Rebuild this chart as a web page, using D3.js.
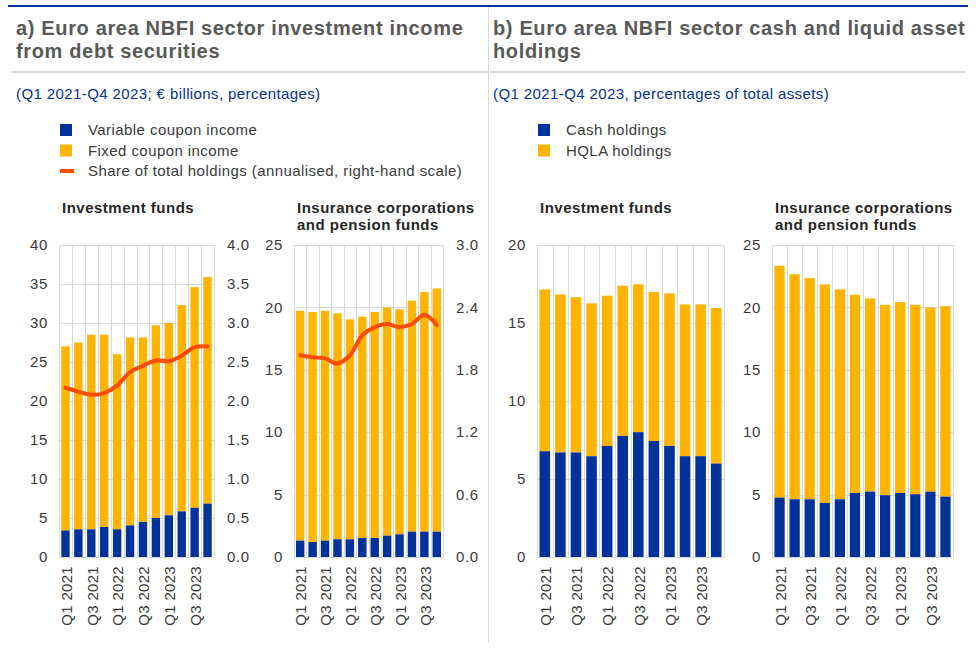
<!DOCTYPE html>
<html>
<head>
<meta charset="utf-8">
<script src="https://cdn.jsdelivr.net/npm/d3@7/dist/d3.min.js"></script>
<style>
  html, body { margin: 0; padding: 0; background: #fff; }
  svg { display: block; font-family: Arial, "Liberation Sans", sans-serif; }
</style>
</head>
<body>
<svg id="chart" width="976" height="652"></svg>
<script>
// Quarters shown on every sub-chart
const quarters = ["Q1 2021","Q2 2021","Q3 2021","Q4 2021","Q1 2022","Q2 2022","Q3 2022","Q4 2022","Q1 2023","Q2 2023","Q3 2023","Q4 2023"];

// a) Investment funds: income from debt securities (€ billions) and share of holdings (%)
const ifVariable = [3.4, 3.55, 3.55, 3.85, 3.55, 4.05, 4.5, 5.0, 5.35, 5.85, 6.3, 6.85];
const ifTotal    = [27.0, 27.5, 28.5, 28.5, 26.0, 28.15, 28.15, 29.7, 30.0, 32.3, 34.6, 35.9];
const ifShare    = [2.17, 2.12, 2.08, 2.10, 2.20, 2.37, 2.45, 2.52, 2.51, 2.58, 2.69, 2.70];

// a) Insurance corporations and pension funds
const icpfVariable = [1.31, 1.2, 1.31, 1.42, 1.42, 1.52, 1.52, 1.71, 1.82, 2.03, 2.03, 2.03];
const icpfTotal    = [19.73, 19.63, 19.73, 19.52, 19.04, 19.25, 19.63, 20.0, 19.84, 20.53, 21.23, 21.52];
const icpfShare    = [1.94, 1.92, 1.91, 1.86, 1.94, 2.13, 2.21, 2.24, 2.21, 2.24, 2.33, 2.23];

// b) Cash and HQLA holdings, % of total assets
const ifCash    = [6.78, 6.7, 6.7, 6.46, 7.12, 7.76, 8.0, 7.44, 7.12, 6.46, 6.46, 5.99];
const ifLiquid  = [17.15, 16.83, 16.66, 16.26, 16.75, 17.39, 17.48, 16.98, 16.9, 16.19, 16.19, 15.96];
const icpfCash   = [4.76, 4.63, 4.63, 4.33, 4.63, 5.13, 5.24, 4.95, 5.13, 5.03, 5.24, 4.84];
const icpfLiquid = [23.34, 22.65, 22.35, 21.84, 21.44, 21.02, 20.72, 20.21, 20.43, 20.21, 20.0, 20.1];

// Axis ticks
const ticksIfIncome   = [0, 5, 10, 15, 20, 25, 30, 35, 40];
const ticksIfShare    = [0, 0.5, 1.0, 1.5, 2.0, 2.5, 3.0, 3.5, 4.0];
const ticksIcpfIncome = [0, 5, 10, 15, 20, 25];
const ticksIcpfShare  = [0, 0.6, 1.2, 1.8, 2.4, 3.0];
const ticksIfHold     = [0, 5, 10, 15, 20];
const ticksIcpfHold   = [0, 5, 10, 15, 20, 25];

// Text
const titleA = ["a) Euro area NBFI sector investment income", "from debt securities"];
const titleB = ["b) Euro area NBFI sector cash and liquid asset", "holdings"];
const subA = "(Q1 2021-Q4 2023; € billions, percentages)";
const subB = "(Q1 2021-Q4 2023, percentages of total assets)";
const legendA = ["Variable coupon income", "Fixed coupon income", "Share of total holdings (annualised, right-hand scale)"];
const legendB = ["Cash holdings", "HQLA holdings"];

const BLUE = "#003299", YELLOW = "#ffb400", ORANGE = "#ff4b00";
const GRID = "#d9d9d9", TXT = "#3a3a3a";

const svg = d3.select("#chart");

// Frame: top rule, divider, header rules
svg.append("line").attr("x1", 8).attr("x2", 968).attr("y1", 6).attr("y2", 6)
  .attr("stroke", BLUE).attr("stroke-width", 2);
svg.append("line").attr("x1", 488.5).attr("x2", 488.5).attr("y1", 7).attr("y2", 642)
  .attr("stroke", GRID).attr("stroke-width", 1);
svg.append("line").attr("x1", 12).attr("x2", 488).attr("y1", 72).attr("y2", 72)
  .attr("stroke", GRID).attr("stroke-width", 2);
svg.append("line").attr("x1", 490).attr("x2", 965).attr("y1", 72).attr("y2", 72)
  .attr("stroke", GRID).attr("stroke-width", 2);

function header(x, lines, sub) {
  const t = svg.append("text").attr("x", x).attr("y", 35)
    .attr("font-size", 20).attr("letter-spacing", 0.65).attr("font-weight", "bold").attr("fill", "#595959");
  lines.forEach((l, i) => t.append("tspan").attr("x", x).attr("dy", i ? 23 : 0).text(l));
  svg.append("text").attr("x", x).attr("y", 99).attr("font-size", 15).attr("letter-spacing", 0.4)
    .attr("fill", BLUE).text(sub);
}
header(16, titleA, subA);
header(493, titleB, subB);

function legend(x, items, kinds, colors) {
  items.forEach((txt, i) => {
    const cy = 130 + i * 20.5;
    if (kinds[i] === "line") {
      svg.append("rect").attr("x", x).attr("y", cy - 2).attr("width", 14).attr("height", 4).attr("fill", colors[i]);
    } else {
      svg.append("rect").attr("x", x).attr("y", cy - 6).attr("width", 12).attr("height", 12).attr("fill", colors[i]);
    }
    svg.append("text").attr("x", x + 28).attr("y", cy + 5).attr("font-size", 15).attr("letter-spacing", 0.43)
      .attr("fill", TXT).text(txt);
  });
}
legend(60, legendA, ["rect", "rect", "line"], [BLUE, YELLOW, ORANGE]);
legend(538, legendB, ["rect", "rect"], [BLUE, YELLOW]);

const yTop = 245, yBot = 557;

function panel(o) {
  const g = svg.append("g");
  const x = d3.scaleBand().domain(quarters).range([o.x0, o.x1]).paddingInner(0).paddingOuter(0);
  const y = d3.scaleLinear().domain([0, d3.max(o.ticks)]).range([yBot, yTop]);

  // sub-chart title
  const st = g.append("text").attr("x", o.x0 + 3).attr("y", 213)
    .attr("font-size", 15).attr("letter-spacing", 0.5).attr("font-weight", "bold").attr("fill", "#262626");
  o.title.forEach((l, i) => st.append("tspan").attr("x", o.x0 + 3).attr("dy", i ? 17 : 0).text(l));

  // grid
  g.selectAll(".hg").data(o.ticks).join("line")
    .attr("x1", o.x0).attr("x2", o.x1).attr("y1", d => Math.round(y(d)) + 0.5).attr("y2", d => Math.round(y(d)) + 0.5)
    .attr("stroke", GRID);
  const edges = quarters.map(q => x(q)).concat([o.x1]);
  g.selectAll(".vg").data(edges).join("line")
    .attr("x1", d => Math.round(d) + 0.5).attr("x2", d => Math.round(d) + 0.5)
    .attr("y1", yTop).attr("y2", yBot).attr("stroke", GRID);

  // stacked bars
  const bw = x.bandwidth() * o.bar;
  const off = (x.bandwidth() - bw) / 2;
  g.selectAll(".top").data(quarters).join("rect")
    .attr("x", q => x(q) + off).attr("width", bw)
    .attr("y", (q, i) => y(o.total[i])).attr("height", (q, i) => y(o.base[i]) - y(o.total[i]))
    .attr("fill", YELLOW);
  g.selectAll(".bot").data(quarters).join("rect")
    .attr("x", q => x(q) + off).attr("width", bw)
    .attr("y", (q, i) => y(o.base[i])).attr("height", (q, i) => yBot - y(o.base[i]))
    .attr("fill", BLUE);

  // left axis labels
  g.selectAll(".yl").data(o.ticks).join("text")
    .attr("x", o.x0 - 11).attr("y", d => y(d)).attr("dy", "0.35em")
    .attr("text-anchor", "end").attr("font-size", 15).attr("letter-spacing", 0.6).attr("fill", TXT)
    .text(d => d3.format("d")(d));

  // right axis + line
  if (o.share) {
    const y2 = d3.scaleLinear().domain([0, d3.max(o.ticks2)]).range([yBot, yTop]);
    g.selectAll(".yr").data(o.ticks2).join("text")
      .attr("x", o.x1 + 13).attr("y", d => y2(d)).attr("dy", "0.35em")
      .attr("font-size", 15).attr("letter-spacing", 0.6).attr("fill", TXT).text(d => d3.format(".1f")(d));
    const line = d3.line().curve(d3.curveCatmullRom.alpha(0.5))
      .x((d, i) => x(quarters[i]) + x.bandwidth() / 2).y(d => y2(d));
    g.append("path").attr("d", line(o.share)).attr("fill", "none")
      .attr("stroke", ORANGE).attr("stroke-width", 4).attr("stroke-linecap", "round");
  }

  // x labels, every other quarter
  g.selectAll(".xl").data(quarters.filter((q, i) => i % 2 === 0)).join("text")
    .attr("transform", q => `translate(${x(q) + x.bandwidth() / 2 + 1},${yBot + 9}) rotate(-90)`)
    .attr("dy", "0.35em").attr("text-anchor", "end").attr("font-size", 15).attr("letter-spacing", 0.3).attr("fill", TXT)
    .text(q => q);
}

panel({ x0: 59, x1: 214, title: ["Investment funds"], ticks: ticksIfIncome, ticks2: ticksIfShare,
        base: ifVariable, total: ifTotal, share: ifShare, bar: 0.65 });
panel({ x0: 294, x1: 443, title: ["Insurance corporations", "and pension funds"], ticks: ticksIcpfIncome, ticks2: ticksIcpfShare,
        base: icpfVariable, total: icpfTotal, share: icpfShare, bar: 0.68 });
panel({ x0: 537, x1: 724, title: ["Investment funds"], ticks: ticksIfHold,
        base: ifCash, total: ifLiquid, bar: 0.68 });
panel({ x0: 772, x1: 953, title: ["Insurance corporations", "and pension funds"], ticks: ticksIcpfHold,
        base: icpfCash, total: icpfLiquid, bar: 0.68 });
</script>
</body>
</html>
